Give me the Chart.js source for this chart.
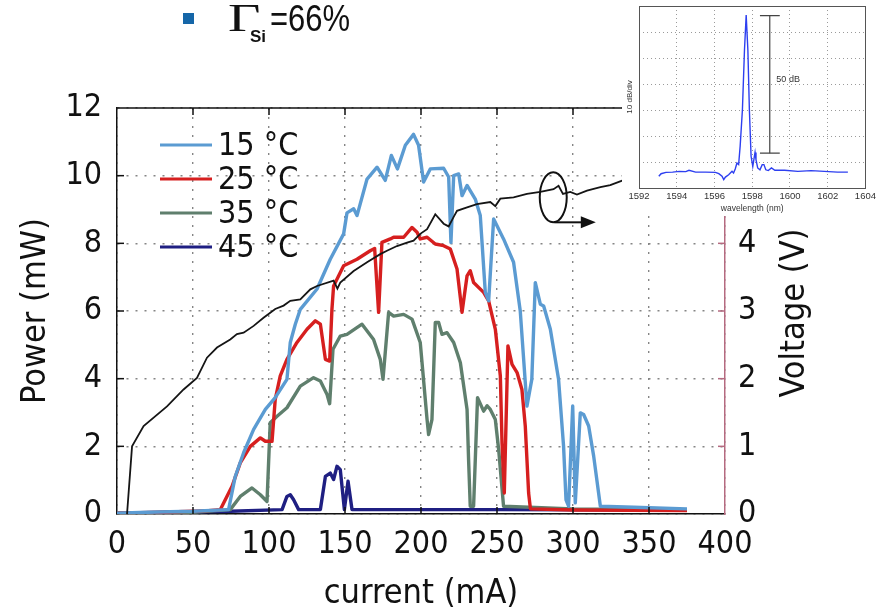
<!DOCTYPE html>
<html>
<head>
<meta charset="utf-8">
<script src="https://cdn.jsdelivr.net/npm/chart.js@4.4.1/dist/chart.umd.min.js"></script>
<style>
html,body{margin:0;padding:0;background:#fff;}
#wrap{position:relative;width:879px;height:613px;overflow:hidden;background:#fff;}
#main{position:absolute;left:0;top:0;}
#insetBox{position:absolute;left:622px;top:0;width:257px;height:216px;background:#fff;}
#inset{position:absolute;left:0;top:0;}
#bullet{position:absolute;left:183px;top:13px;width:11px;height:11px;background:#1566a8;}
.t{position:absolute;white-space:nowrap;color:#111;transform-origin:0 0;}
#gamma{left:228px;top:-2px;font-family:'Liberation Serif',serif;font-size:40px;line-height:40px;transform:scaleX(1.4);}
#sub{left:250px;top:28px;font-family:'Liberation Sans',sans-serif;font-weight:bold;font-size:17px;line-height:17px;}
#pct{left:270px;top:1px;font-family:'Liberation Sans',sans-serif;font-size:36px;line-height:36px;transform:scaleX(0.86);}
</style>
</head>
<body>
<div id="wrap">
  <canvas id="main" width="879" height="613"></canvas>
  <div id="insetBox"><canvas id="inset" width="257" height="216"></canvas></div>
  <div id="bullet"></div>
  <span class="t" id="gamma">Γ</span><span class="t" id="sub">Si</span><span class="t" id="pct">=66%</span>
</div>
<script>
// ---------------- data ----------------
const seriesLabels = ['15 °C', '25 °C', '35 °C', '45 °C'];

const cur15 = [0, 20, 50, 73.4, 77.8, 83.3, 89.9, 97.6, 104.1, 111.8, 114.0, 117.3, 120.6, 131.6, 140.3, 149.1, 151.3, 155.7, 157.9, 164.5, 171.1, 176.5, 180.5, 184.5, 189.7, 195.1, 198.4, 201.7, 206.1, 214.9, 218.2, 219.7, 221.5, 224.8, 227.0, 230.3, 235.7, 239.0, 242.3, 244.5, 247.8, 254.3, 260.9, 265.3, 269.7, 272.9, 275.2, 278.5, 280.7, 285.1, 290.5, 293.8, 295.4, 297.1, 299.8, 301.5, 304.8, 307.0, 310.3, 313.6, 318.0, 340, 375];
const pow15 = [0.02, 0.05, 0.08, 0.13, 1.11, 1.81, 2.50, 3.09, 3.44, 3.98, 5.07, 5.61, 6.05, 6.65, 7.53, 8.28, 8.90, 9.02, 8.82, 9.90, 10.25, 9.86, 10.60, 10.20, 10.90, 11.22, 10.90, 9.81, 10.20, 10.22, 9.96, 8.03, 10.00, 10.05, 9.41, 9.71, 9.31, 8.82, 6.55, 6.30, 8.72, 8.13, 7.44, 6.00, 3.19, 3.98, 6.84, 6.20, 6.15, 5.46, 3.98, 2.00, 0.42, 0.23, 3.19, 0.33, 2.99, 2.94, 2.60, 1.71, 0.23, 0.20, 0.15];

const cur25 = [0, 30, 60, 68.0, 75.7, 81.1, 87.7, 94.3, 97.6, 102.0, 104.1, 107.4, 111.8, 118.4, 125.0, 130.5, 133.8, 137.1, 139.9, 141.4, 142.5, 149.1, 157.9, 166.6, 169.5, 172.1, 174.3, 179.8, 182.0, 188.6, 194.1, 197.4, 199.5, 204.0, 209.4, 214.9, 219.3, 223.7, 227.0, 230.3, 232.4, 234.6, 241.2, 244.5, 248.9, 252.2, 253.3, 254.8, 257.2, 259.9, 263.2, 266.4, 268.6, 270.8, 272.0, 300, 375];
const pow25 = [0.02, 0.05, 0.10, 0.13, 0.82, 1.51, 2.00, 2.25, 2.15, 2.15, 3.39, 4.08, 4.57, 5.07, 5.46, 5.71, 5.61, 4.57, 4.52, 6.05, 6.74, 7.34, 7.53, 7.78, 7.85, 5.96, 8.03, 8.13, 8.18, 8.18, 8.47, 8.33, 8.13, 8.18, 7.98, 7.93, 7.83, 7.24, 5.96, 7.04, 7.19, 6.84, 6.55, 6.30, 5.46, 4.08, 2.10, 0.62, 4.97, 4.42, 4.18, 3.68, 2.60, 0.62, 0.15, 0.12, 0.10];

const cur35 = [0, 50, 74.5, 81.1, 88.8, 94.3, 98.7, 100.8, 105.3, 111.8, 120.6, 129.3, 133.8, 138.2, 139.9, 142.1, 146.9, 151.3, 161.2, 168.8, 173.2, 175.0, 178.7, 182.0, 188.6, 194.1, 199.5, 204.0, 205.0, 207.2, 209.4, 211.6, 213.8, 217.1, 221.5, 225.9, 230.3, 231.3, 232.4, 234.6, 237.2, 241.2, 243.5, 245.6, 248.9, 251.1, 254.3, 300, 375];
const pow35 = [0.02, 0.05, 0.13, 0.52, 0.77, 0.57, 0.37, 2.70, 2.89, 3.14, 3.78, 4.03, 3.93, 3.53, 3.26, 4.87, 5.26, 5.31, 5.61, 5.16, 4.57, 3.98, 5.96, 5.85, 5.90, 5.76, 5.07, 2.79, 2.35, 2.79, 5.66, 5.66, 5.31, 5.36, 5.07, 4.47, 3.09, 1.61, 0.23, 0.23, 3.44, 3.04, 3.20, 3.09, 2.79, 1.90, 0.23, 0.15, 0.12];

const cur45 = [0, 75, 108.6, 111.8, 114.0, 116.2, 119.5, 133.8, 137.1, 140.3, 142.5, 144.7, 146.9, 149.6, 152.0, 154.6, 250, 375];
const pow45 = [0.02, 0.08, 0.13, 0.52, 0.57, 0.42, 0.13, 0.13, 1.11, 1.21, 1.02, 1.41, 1.31, 0.13, 0.97, 0.13, 0.13, 0.12];

const curV = [6.6, 9.9, 17.5, 32.9, 43.8, 52.6, 59.2, 65.8, 74.5, 78.9, 83.3, 89.9, 96.4, 104.1, 109.6, 114.0, 120.6, 127.2, 131.6, 142.5, 145.0, 146.9, 155.7, 164.5, 173.2, 177.6, 184.2, 190.8, 195.1, 199.5, 204.0, 209.4, 214.9, 218.2, 221.5, 223.7, 230.3, 236.8, 245.6, 248.9, 252.2, 260.9, 269.7, 278.5, 287.2, 290.5, 293.4, 298.2, 302.6, 309.2, 318.0, 324.5, 335.0];
const voltV = [0, 1.00, 1.30, 1.59, 1.84, 2.01, 2.31, 2.46, 2.58, 2.66, 2.68, 2.78, 2.90, 3.03, 3.08, 3.15, 3.17, 3.32, 3.37, 3.45, 3.33, 3.42, 3.59, 3.72, 3.84, 3.89, 3.96, 4.01, 4.04, 4.14, 4.21, 4.43, 4.29, 4.25, 4.39, 4.48, 4.53, 4.58, 4.61, 4.55, 4.66, 4.68, 4.73, 4.76, 4.80, 4.85, 4.73, 4.76, 4.72, 4.78, 4.83, 4.86, 4.95];

// annotation (ellipse on the voltage curve + arrow pointing to the right axis)
const markCurrent = 287, markVolt = 4.68, arrowTipCurrent = 315;

// inset spectrum
const wavelength = [1593.05, 1593.17, 1593.43, 1593.78, 1594.13, 1594.48, 1594.65, 1595.0, 1595.53, 1596.05, 1596.23, 1596.4, 1596.49, 1596.58, 1596.75, 1596.93, 1597.01, 1597.1, 1597.19, 1597.28, 1597.36, 1597.48, 1597.59, 1597.68, 1597.77, 1597.85, 1597.94, 1598.03, 1598.1, 1598.15, 1598.2, 1598.29, 1598.41, 1598.53, 1598.62, 1598.72, 1598.85, 1599.02, 1599.2, 1599.72, 1600.42, 1601.12, 1601.82, 1602.52, 1603.07];
const levelDiv = [0.45, 0.55, 0.6, 0.61, 0.64, 0.63, 0.68, 0.61, 0.61, 0.6, 0.55, 0.45, 0.32, 0.42, 0.51, 0.64, 0.58, 0.73, 0.96, 0.9, 1.6, 3.0, 5.31, 6.65, 5.31, 3.0, 1.22, 0.83, 1.15, 1.37, 1.09, 0.77, 0.7, 0.9, 0.9, 0.7, 0.67, 0.77, 0.68, 0.68, 0.64, 0.67, 0.64, 0.61, 0.61];
const barWavelength = 1598.93, barTop = 6.63, barBottom = 1.34, capLeft = 1598.41, capRight = 1599.46;
const barLabel = '50 dB', barLabelWl = 1599.28, barLabelLevel = 4.16;

// ---------------- styles ----------------
const FONT = "'Liberation Sans Narrow', 'DejaVu Sans Condensed', 'Liberation Sans', sans-serif";
const COLORS = ['#5b9bd2', '#d61f1f', '#5f7f6d', '#1f1f82'];
const RIGHT_AXIS_COLOR = '#b56a80';
const GRID_COLOR = '#858585';

function pts(xs, ys) { return xs.map((x, i) => ({x: x, y: ys[i]})); }

const mainPlugin = {
  id: 'mainPlugin',
  afterDatasetsDraw(chart) {
    const {ctx, chartArea: ca, scales} = chart;
    ctx.save();
    // legend (no box)
    ctx.font = '32px ' + FONT;
    ctx.textBaseline = 'middle';
    ctx.textAlign = 'left';
    chart.data.datasets.forEach(ds => {
      if (ds.legendRow === undefined) return;
      const y = ca.top + 37 + ds.legendRow * 34;
      ctx.strokeStyle = ds.borderColor; ctx.lineWidth = 3;
      ctx.beginPath(); ctx.moveTo(ca.left + 43, y); ctx.lineTo(ca.left + 95, y); ctx.stroke();
      ctx.fillStyle = '#111';
      ctx.fillText(ds.label, ca.left + 101, y + 2);
    });
    // ellipse + arrow annotation
    const cx = scales.x.getPixelForValue(markCurrent);
    const cy = scales.y2.getPixelForValue(markVolt);
    const rx = 13.5, ry = 25;
    ctx.strokeStyle = '#111'; ctx.lineWidth = 2;
    ctx.beginPath(); ctx.ellipse(cx, cy, rx, ry, 0, 0, Math.PI * 2); ctx.stroke();
    const tip = scales.x.getPixelForValue(arrowTipCurrent);
    const ay = cy + ry;
    ctx.beginPath(); ctx.moveTo(cx + 1, ay); ctx.lineTo(tip - 10, ay); ctx.stroke();
    ctx.fillStyle = '#111';
    ctx.beginPath(); ctx.moveTo(tip, ay); ctx.lineTo(tip - 15, ay - 6); ctx.lineTo(tip - 15, ay + 6); ctx.closePath(); ctx.fill();
    ctx.restore();
  },
  afterDraw(chart) {
    const {ctx, chartArea: ca, scales} = chart;
    ctx.save();
    ctx.strokeStyle = '#111'; ctx.lineWidth = 1.5;
    ctx.beginPath(); ctx.moveTo(ca.left, ca.top); ctx.lineTo(ca.right, ca.top); ctx.stroke();
    scales.x.ticks.forEach(t => {
      if (t.value <= scales.x.min || t.value >= scales.x.max) return;
      const px = scales.x.getPixelForValue(t.value);
      ctx.beginPath(); ctx.moveTo(px, ca.bottom); ctx.lineTo(px, ca.bottom - 7);
      ctx.moveTo(px, ca.top); ctx.lineTo(px, ca.top + 7); ctx.stroke();
    });
    scales.y.ticks.forEach(t => {
      if (t.value <= scales.y.min || t.value >= scales.y.max) return;
      const py = scales.y.getPixelForValue(t.value);
      ctx.beginPath(); ctx.moveTo(ca.left, py); ctx.lineTo(ca.left + 7, py); ctx.stroke();
    });
    ctx.strokeStyle = RIGHT_AXIS_COLOR;
    scales.y2.ticks.forEach(t => {
      if (t.value <= scales.y2.min || t.value >= scales.y2.max) return;
      const py = scales.y2.getPixelForValue(t.value);
      ctx.beginPath(); ctx.moveTo(ca.right, py); ctx.lineTo(ca.right - 7, py); ctx.stroke();
    });
    // right axis title, reading bottom to top
    ctx.translate(795, (ca.top + ca.bottom) / 2 + 2);
    ctx.rotate(-Math.PI / 2);
    ctx.font = '34px ' + FONT;
    ctx.fillStyle = '#111';
    ctx.textAlign = 'center'; ctx.textBaseline = 'middle';
    ctx.fillText(chart.options.rightTitle, 0, 0);
    ctx.restore();
  }
};

const powerSets = [[cur15, pow15], [cur25, pow25], [cur35, pow35], [cur45, pow45]];
const datasets = [{
  label: 'Voltage', data: pts(curV, voltV), yAxisID: 'y2',
  borderColor: '#151515', borderWidth: 1.8, pointRadius: 0, tension: 0
}];
powerSets.forEach((s, i) => {
  datasets.push({
    label: seriesLabels[i], data: pts(s[0], s[1]), yAxisID: 'y', legendRow: i,
    borderColor: COLORS[i], borderWidth: 3.4, pointRadius: 0, tension: 0,
    borderJoinStyle: 'round'
  });
});

new Chart(document.getElementById('main'), {
  type: 'line',
  data: {datasets: datasets},
  options: {
    rightTitle: 'Voltage (V)',
    responsive: false, animation: false, devicePixelRatio: 1,
    layout: {padding: {top: 108, left: 0, right: 0, bottom: 0}},
    plugins: {legend: {display: false}, tooltip: {enabled: false}},
    scales: {
      x: {
        type: 'linear', min: 0, max: 400,
        afterFit: s => { s.height = 99; },
        ticks: {stepSize: 50, font: {family: FONT, size: 32}, color: '#111', padding: 11, maxRotation: 0, autoSkip: false},
        grid: {color: GRID_COLOR, lineWidth: 1.4, drawTicks: false},
        border: {display: true, color: '#111', width: 1.5, dash: [2, 7]},
        title: {display: true, text: 'current (mA)', font: {family: FONT, size: 34, lineHeight: 1}, color: '#111', padding: {top: 0, bottom: 2}}
      },
      y: {
        position: 'left', min: 0, max: 12,
        afterFit: s => { s.width = 117; },
        ticks: {stepSize: 2, font: {family: FONT, size: 32}, color: '#111', padding: 15},
        grid: {color: GRID_COLOR, lineWidth: 1.4, drawTicks: false},
        border: {display: true, color: '#111', width: 1.5, dash: [2, 7]},
        title: {display: true, text: 'Power (mW)', font: {family: FONT, size: 34}, color: '#111', padding: {top: 16, bottom: 0}}
      },
      y2: {
        position: 'right', min: 0, max: 6,
        afterFit: s => { s.width = 154; },
        ticks: {stepSize: 1, font: {family: FONT, size: 32}, color: '#111', padding: 13},
        grid: {drawOnChartArea: false, drawTicks: false},
        border: {display: true, color: RIGHT_AXIS_COLOR, width: 1.5}
      }
    }
  },
  plugins: [mainPlugin]
});

// ---------------- inset ----------------
const insetPlugin = {
  id: 'insetPlugin',
  afterDraw(chart) {
    const {ctx, chartArea: ca, scales} = chart;
    ctx.save();
    ctx.strokeStyle = '#555'; ctx.lineWidth = 1;
    ctx.strokeRect(Math.round(ca.left) + 0.5, Math.round(ca.top) + 0.5, Math.round(ca.right - ca.left), Math.round(ca.bottom - ca.top));
    ctx.fillStyle = '#333';
    ctx.font = '9px "Liberation Sans", sans-serif';
    ctx.textBaseline = 'middle'; ctx.textAlign = 'left';
    ctx.fillText(barLabel, scales.x.getPixelForValue(barLabelWl), scales.y.getPixelForValue(barLabelLevel));
    ctx.restore();
  }
};

new Chart(document.getElementById('inset'), {
  type: 'line',
  data: {datasets: [
    {data: pts(wavelength, levelDiv), borderColor: '#2d3ff0', borderWidth: 1.4, pointRadius: 0, tension: 0},
    {data: pts([barWavelength, barWavelength], [barBottom, barTop]), borderColor: '#444', borderWidth: 1.2, pointRadius: 0},
    {data: pts([capLeft, capRight], [barTop, barTop]), borderColor: '#444', borderWidth: 1.2, pointRadius: 0},
    {data: pts([capLeft, capRight], [barBottom, barBottom]), borderColor: '#444', borderWidth: 1.2, pointRadius: 0}
  ]},
  options: {
    responsive: false, animation: false, devicePixelRatio: 1,
    layout: {padding: {top: 6, right: 11, left: 0, bottom: 0}},
    plugins: {legend: {display: false}, tooltip: {enabled: false}},
    scales: {
      x: {
        type: 'linear', min: 1592, max: 1604,
        afterFit: s => { s.height = 28; },
        ticks: {stepSize: 2, font: {family: "'Liberation Sans', sans-serif", size: 9.5}, color: '#333', padding: 3, maxRotation: 0, autoSkip: false,
                callback: v => String(v)},
        grid: {color: '#9a9a9a', lineWidth: 1, drawTicks: false},
        border: {display: false, dash: [1, 3]},
        title: {display: true, text: 'wavelength (nm)', font: {family: "'Liberation Sans', sans-serif", size: 8.5}, color: '#333', padding: {top: 0, bottom: 2}}
      },
      y: {
        min: 0, max: 7,
        afterFit: s => { s.width = 17; },
        ticks: {display: false, stepSize: 1},
        grid: {color: '#9a9a9a', lineWidth: 1, drawTicks: false},
        border: {display: false, dash: [1, 3]},
        title: {display: true, text: '10 dB/div', font: {family: "'Liberation Sans', sans-serif", size: 8}, color: '#333', padding: {top: 3, bottom: 0}}
      }
    }
  },
  plugins: [insetPlugin]
});
</script>
</body>
</html>
